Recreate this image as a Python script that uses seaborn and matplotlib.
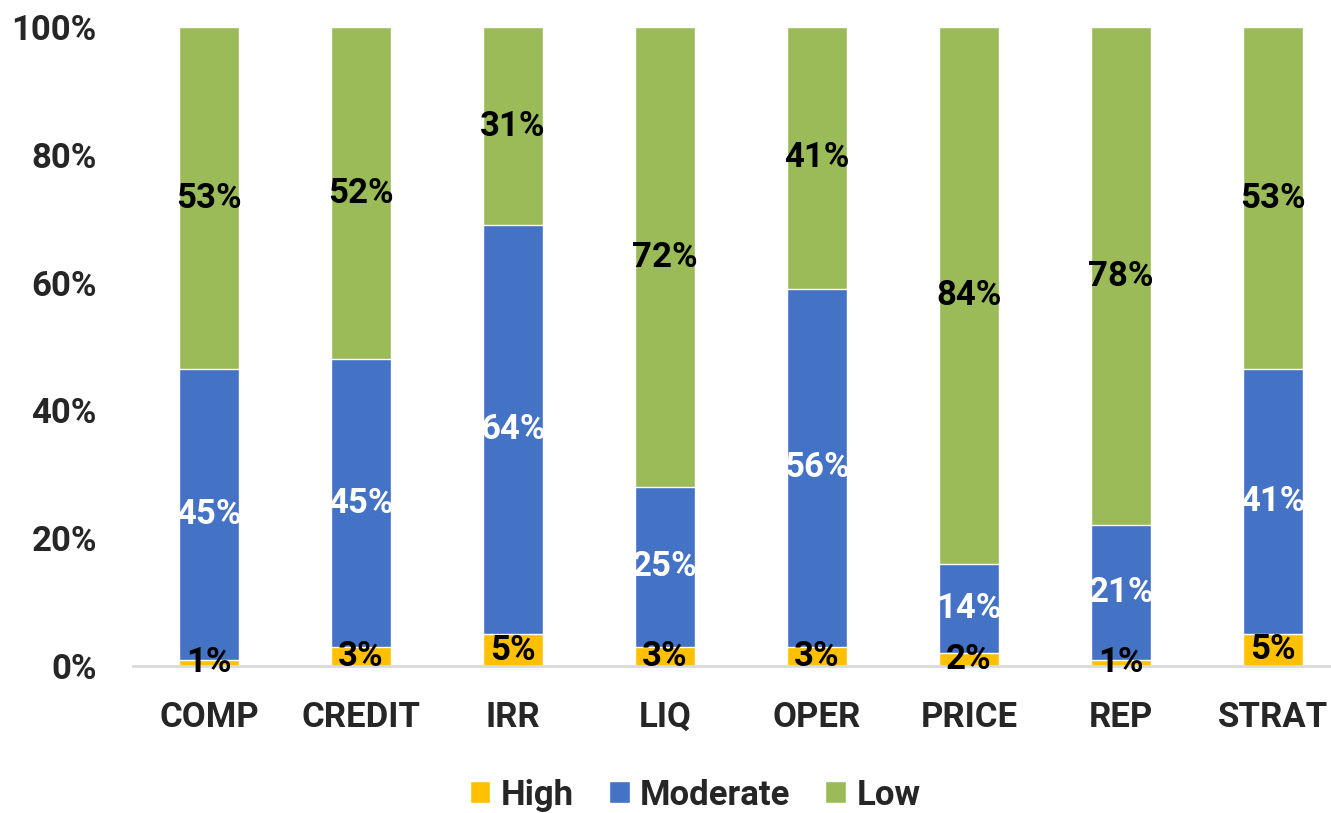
import pandas as pd
import matplotlib.pyplot as plt
import seaborn as sns
from matplotlib.patches import Patch

# --- data ---
categories = ['COMP', 'CREDIT', 'IRR', 'LIQ', 'OPER', 'PRICE', 'REP', 'STRAT']
high = [1, 3, 5, 3, 3, 2, 1, 5]
moderate = [45, 45, 64, 25, 56, 14, 21, 41]
low = [53, 52, 31, 72, 41, 84, 78, 53]

colors = {'High': '#FFC000', 'Moderate': '#4472C4', 'Low': '#9BBB59'}

df = pd.DataFrame({'Category': categories, 'High': high,
                   'Moderate': moderate, 'Low': low})
total = df[['High', 'Moderate', 'Low']].sum(axis=1)
# 100% stacked: shares of each row total
df['h_top'] = df['High'] / total
df['m_top'] = (df['High'] + df['Moderate']) / total
df['l_top'] = (df['High'] + df['Moderate'] + df['Low']) / total

sns.set_theme(style='white')
plt.rcParams['font.family'] = ['Roboto', 'DejaVu Sans']
plt.rcParams['font.weight'] = 'bold'

fig = plt.figure(figsize=(13.31, 8.13), dpi=100)
ax = fig.add_axes([133 / 1331, (813 - 666) / 813, (1349 - 133) / 1331, 639 / 813])

# overlapping cumulative bars -> stacked look
sns.barplot(data=df, x='Category', y='l_top', color=colors['Low'], width=0.4,
            saturation=1, ax=ax)
sns.barplot(data=df, x='Category', y='m_top', color=colors['Moderate'], width=0.4,
            saturation=1, ax=ax)
sns.barplot(data=df, x='Category', y='h_top', color=colors['High'], width=0.4,
            saturation=1, ax=ax)

# segment labels (raw values, centred in each segment)
fs = 25
for i in range(len(df)):
    r = df.iloc[i]
    ax.text(i, r['h_top'] / 2, f"{r['High']}%", ha='center', va='center',
            fontsize=fs, fontweight='bold', color='black')
    ax.text(i, (r['h_top'] + r['m_top']) / 2, f"{r['Moderate']}%", ha='center',
            va='center', fontsize=fs, fontweight='bold', color='white')
    ax.text(i, (r['m_top'] + r['l_top']) / 2, f"{r['Low']}%", ha='center',
            va='center', fontsize=fs, fontweight='bold', color='black')

ax.set_ylim(0, 1)
ax.set_xlim(-0.5, len(categories) - 0.5)
ax.set_yticks([0, 0.2, 0.4, 0.6, 0.8, 1.0])
ax.set_yticklabels(['0%', '20%', '40%', '60%', '80%', '100%'])
ax.set_xlabel('')
ax.set_ylabel('')
ax.tick_params(axis='y', length=0, pad=26, labelsize=fs)
ax.tick_params(axis='x', length=0, pad=25, labelsize=fs)
for lab in ax.get_xticklabels() + ax.get_yticklabels():
    lab.set_fontweight('bold')

sns.despine(ax=ax, left=True, right=True, top=True)
ax.spines['bottom'].set_color('#d9d9d9')
ax.spines['bottom'].set_linewidth(2)

handles = [Patch(facecolor=colors[k], label=k) for k in ['High', 'Moderate', 'Low']]
fig.legend(handles=handles, loc='center', ncol=3, frameon=False,
           bbox_to_anchor=(695 / 1331, 1 - 795 / 813),
           prop={'size': fs, 'weight': 'bold'},
           handlelength=0.6, handleheight=0.6, handletextpad=0.3, columnspacing=1.0)

fig.savefig('out.png', dpi=100)
